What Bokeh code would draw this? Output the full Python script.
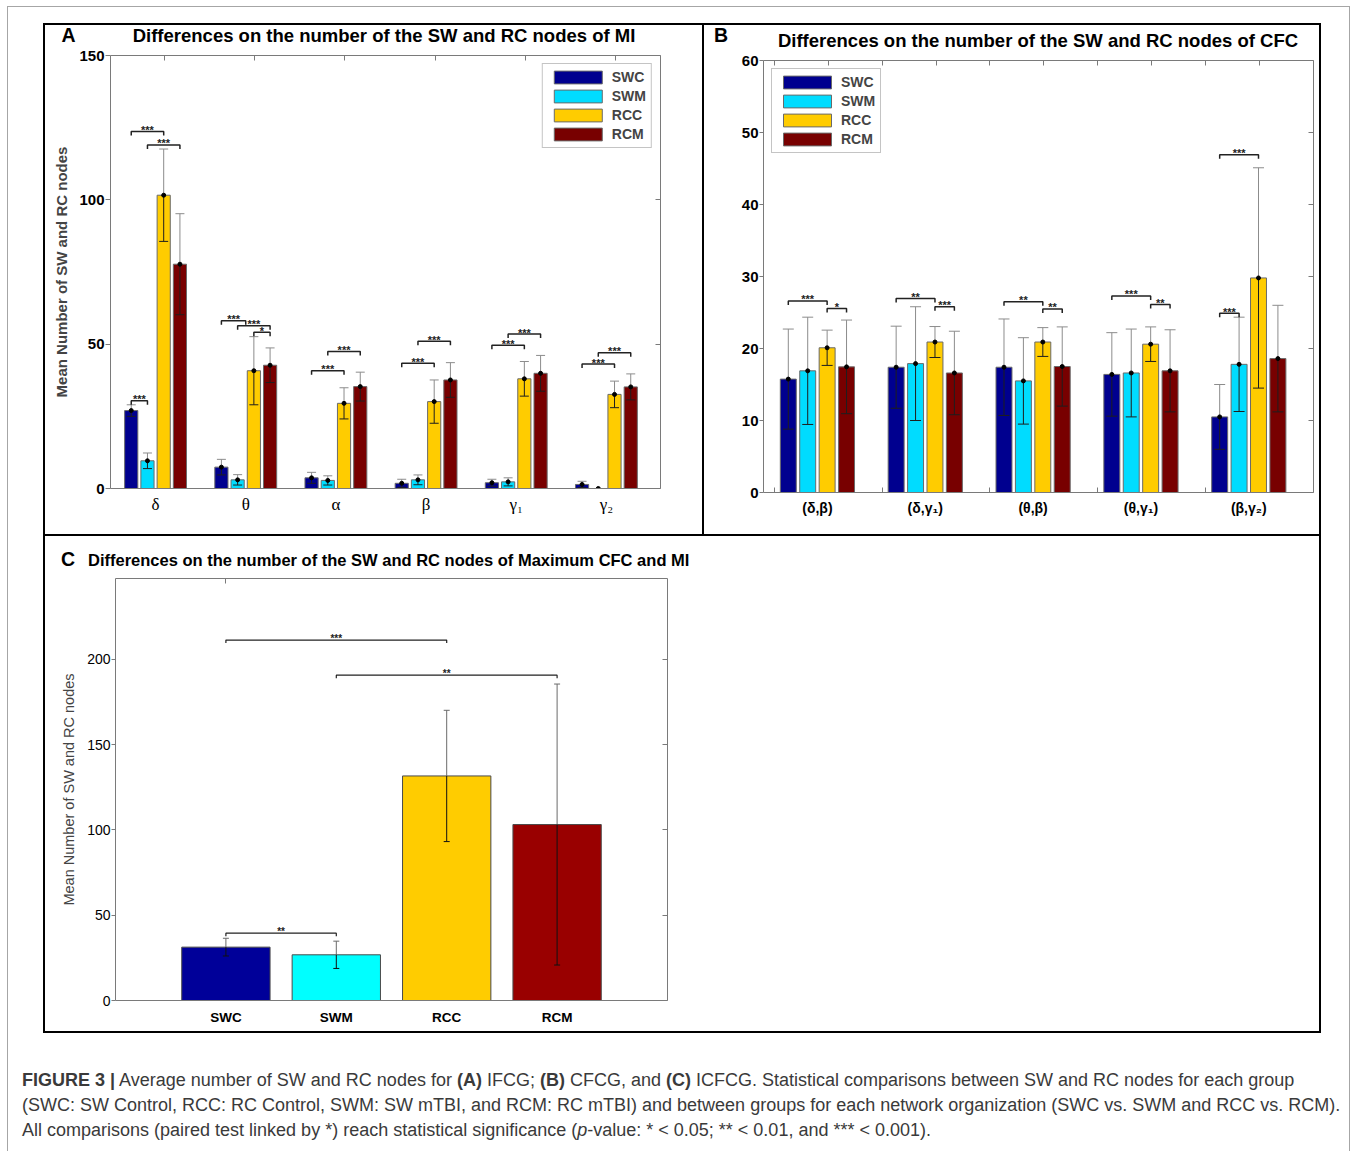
import numpy as np
from bokeh.plotting import figure
from bokeh.models import (ColumnDataSource, Legend, LegendItem, LinearAxis, FixedTicker,
                          Range1d, Div, Spacer, CustomJSTickFormatter)
from bokeh.layouts import column, row
from bokeh.embed import file_html
from bokeh.resources import INLINE
from bokeh.core.properties import value

SANS = "Liberation Sans"
SERIF = "Liberation Serif"
AXIS_GRAY = "#7a7a7a"
FRAME_GRAY = "#a6a6a6"

series = ["SWC", "SWM", "RCC", "RCM"]
colors_ab = ["#00008f", "#00dcff", "#ffcc00", "#780000"]
colors_c = ["#000099", "#00ffff", "#ffcc00", "#990000"]

# ---------------- Panel A data ----------------
a_bands = ["δ", "θ", "α", "β", "γ₁", "γ₂"]
a_swc = [27.0, 7.4, 3.7, 1.8, 2.0, 1.4]
a_swc_err = [2.0, 2.7, 1.9, 1.4, 1.2, 1.1]
a_swm = [9.6, 3.0, 2.8, 3.0, 2.3, 0.0]
a_swm_err = [2.7, 1.8, 1.6, 1.7, 1.4, 0.0]
a_rcc = [101.6, 40.8, 29.5, 30.1, 38.0, 32.6]
a_rcc_err = [16.0, 11.8, 5.4, 7.5, 6.0, 4.6]
a_rcm = [77.7, 42.7, 35.3, 37.6, 39.9, 35.2]
a_rcm_err = [17.5, 6.0, 5.0, 6.0, 6.2, 4.5]
a_yticks = [0, 50, 100, 150]
# significance brackets: band index, from bar, to bar, bracket height, stars
a_sig_band = [0, 0, 0, 1, 1, 1, 2, 2, 3, 3, 4, 4, 5, 5]
a_sig_from = [0, 1, 0, 0, 1, 2, 0, 1, 0, 1, 0, 1, 0, 1]
a_sig_to = [2, 3, 1, 1.5, 3, 3, 2, 3, 2, 3, 2, 3, 2, 3]
a_sig_y = [123.7, 119.0, 30.4, 58.1, 56.4, 54.1, 40.8, 47.5, 43.4, 51.0, 49.6, 53.5, 43.1, 47.0]
a_sig_txt = ["***", "***", "***", "***", "***", "*", "***", "***", "***", "***", "***", "***", "***", "***"]

# ---------------- Panel B data ----------------
b_pairs = ["(δ,β)", "(δ,γ₁)", "(θ,β)", "(θ,γ₁)", "(β,γ₂)"]
b_swc = [15.75, 17.4, 17.4, 16.4, 10.5]
b_swc_err = [6.95, 5.7, 6.7, 5.8, 4.5]
b_swm = [16.9, 17.9, 15.5, 16.6, 17.8]
b_swm_err = [7.45, 7.9, 6.0, 6.1, 6.55]
b_rcc = [20.1, 20.9, 20.9, 20.6, 29.8]
b_rcc_err = [2.45, 2.15, 2.0, 2.4, 15.3]
b_rcm = [17.45, 16.6, 17.5, 16.9, 18.6]
b_rcm_err = [6.5, 5.8, 5.5, 5.7, 7.4]
b_yticks = [0, 10, 20, 30, 40, 50, 60]
b_sig_band = [0, 0, 1, 1, 2, 2, 3, 3, 4, 4]
b_sig_from = [0, 2, 0, 2, 0, 2, 0, 2, 0, 0]
b_sig_to = [2, 3, 2, 3, 2, 3, 2, 3, 1, 2]
b_sig_y = [26.6, 25.55, 26.95, 25.8, 26.5, 25.5, 27.3, 26.1, 24.9, 46.9]
b_sig_txt = ["***", "*", "**", "***", "**", "**", "***", "**", "***", "***"]

# ---------------- Panel C data ----------------
c_groups = ["SWC", "SWM", "RCC", "RCM"]
c_mean = [31.3, 26.8, 131.7, 103.2]
c_err = [5.2, 8.0, 38.5, 82.4]
c_yticks = [0, 50, 100, 150, 200]
c_sig_from = [0, 1, 0]
c_sig_to = [2, 3, 1]
c_sig_y = [211.4, 190.8, 39.5]
c_sig_txt = ["***", "**", "**"]

title_a = "Differences on the number of the SW and RC nodes of MI"
title_b = "Differences on the number of the SW and RC nodes of CFC"
title_c = "Differences on the number of the SW and RC nodes of Maximum CFC and MI"
ylabel = "Mean Number of SW and RC nodes"


def make_panel(bl, bt, br, bb, fw, fh, xr, yr):
    p = figure(frame_width=fw, frame_height=fh,
               min_border_left=bl, min_border_top=bt,
               min_border_right=br, min_border_bottom=bb,
               x_range=Range1d(*xr), y_range=Range1d(*yr),
               x_axis_location=None, y_axis_location=None,
               output_backend="svg", toolbar_location=None, tools="")
    p.title.visible = False
    p.outline_line_color = None
    p.background_fill_color = "white"
    p.border_fill_color = "white"
    p.xgrid.grid_line_color = None
    p.ygrid.grid_line_color = None
    return p, fw / (xr[1] - xr[0]), fh / (yr[1] - yr[0])


def base_axis(ticks, minor=None):
    ax = LinearAxis(ticker=FixedTicker(ticks=ticks, minor_ticks=minor or []))
    ax.axis_line_color = AXIS_GRAY
    ax.major_tick_line_color = AXIS_GRAY
    ax.minor_tick_line_color = AXIS_GRAY if minor else None
    ax.major_tick_in = 0
    ax.major_tick_out = 0
    ax.minor_tick_in = 0
    ax.minor_tick_out = 0
    ax.major_label_text_color = "black"
    return ax


def blank(ax):
    ax.formatter = CustomJSTickFormatter(code="return ''")
    ax.major_label_standoff = 0
    ax.major_label_text_font_size = "1px"
    return ax


def draw_bars(p, means, errs, colors, offsets, width, cap, up_col, lo_col, edge, dot, lw=1):
    rs = []
    for k in range(len(means)):
        m = np.array(means[k], dtype=float)
        e = np.array(errs[k], dtype=float)
        x = np.arange(1, len(m) + 1) + offsets[k]
        src = ColumnDataSource(dict(x=x, top=m, lo=m - e, hi=m + e, x0=x - cap, x1=x + cap))
        r = p.vbar(x="x", top="top", bottom=0, width=width, source=src,
                   fill_color=colors[k], line_color=edge, line_width=1)
        p.segment(x0="x", y0="top", x1="x", y1="hi", source=src, line_color=up_col, line_width=lw)
        p.segment(x0="x", y0="lo", x1="x", y1="top", source=src, line_color=lo_col, line_width=lw)
        p.segment(x0="x0", y0="hi", x1="x1", y1="hi", source=src, line_color=up_col, line_width=lw)
        p.segment(x0="x0", y0="lo", x1="x1", y1="lo", source=src, line_color=lo_col, line_width=lw)
        if dot:
            p.scatter(x="x", y="top", size=dot, color="black", source=src)
        rs.append(r)
    return rs


def draw_sig(p, bands, frm, to, ys, txts, offsets, drop, lift, fsize, lw):
    def bx(b, i):
        return b + 1 + float(np.interp(i, [0, 1, 2, 3], offsets))
    xs, yy, tx, ty = [], [], [], []
    for b, i, j, y in zip(bands, frm, to, ys):
        x1, x2 = bx(b, i), bx(b, j)
        xs.append([x1, x1, x2, x2])
        yy.append([y - drop, y, y, y - drop])
        tx.append((x1 + x2) / 2)
        ty.append(y + lift)
    p.multi_line(xs, yy, line_color="#222222", line_width=lw)
    p.text(x=tx, y=ty, text=list(txts), text_font=value(SANS), text_font_size=fsize,
           text_font_style="bold", text_align="center", text_baseline="alphabetic",
           text_color="#222222")


def make_legend(renderers):
    lg = Legend(items=[LegendItem(label=s, renderers=[r]) for s, r in zip(series, renderers)])
    lg.border_line_color = "#8a8a8a"
    lg.border_line_width = 1
    lg.background_fill_color = "white"
    lg.background_fill_alpha = 1
    lg.padding = 5
    lg.spacing = 3
    lg.margin = 8
    lg.glyph_width = 60
    lg.glyph_height = 16
    lg.label_height = 16
    lg.label_standoff = 4
    lg.label_text_font = SANS
    lg.label_text_font_style = "bold"
    lg.label_text_font_size = "14px"
    return lg


def line_div(w, h, color):
    return Div(text="", width=w, height=h, margin=0,
               styles={"background-color": color})


def header_div(w, h, items):
    spans = ""
    for (txt, x, y, size, anchor) in items:
        tr = "translate(-50%,-50%)" if anchor == "center" else "translate(0,-50%)"
        spans += (f'<span style="position:absolute;left:{x}px;top:{y}px;transform:{tr};'
                  f'font-family:\'{SANS}\',Arial,sans-serif;font-weight:bold;font-size:{size};'
                  f'line-height:1;color:#000;white-space:nowrap;">{txt}</span>')
    html = f'<div style="position:relative;width:{w}px;height:{h}px;">{spans}</div>'
    return Div(text=html, width=w, height=h, margin=0)


offs = [-0.27, -0.09, 0.09, 0.27]

# ================= Panel A =================
pA, sxA, syA = make_panel(65, 10, 42, 46, 550, 433, (0.5, 6.6), (0, 150))
ax = base_axis(a_yticks)
ax.major_tick_out = 5
ax.major_label_standoff = 1
ax.major_label_text_font = SANS
ax.major_label_text_font_style = "bold"
ax.major_label_text_font_size = "15px"
ax.axis_label = ylabel
ax.axis_label_text_font = SANS
ax.axis_label_text_font_style = "bold"
ax.axis_label_text_font_size = "15px"
ax.axis_label_standoff = 6
pA.add_layout(ax, "left")
ax = blank(base_axis(a_yticks)); ax.major_tick_in = 5
pA.add_layout(ax, "right")
ax = blank(base_axis([k + 1.1 for k in range(len(a_bands))])); ax.major_tick_in = 5
pA.add_layout(ax, "above")
ax = base_axis(list(range(1, len(a_bands) + 1)))
ax.major_label_overrides = {k + 1: s for k, s in enumerate(a_bands)}
ax.major_label_standoff = 6
ax.major_label_text_font = SERIF
ax.major_label_text_font_size = "17px"
pA.add_layout(ax, "below")

rA = draw_bars(pA, [a_swc, a_swm, a_rcc, a_rcm], [a_swc_err, a_swm_err, a_rcc_err, a_rcm_err],
               colors_ab, offs, 0.146, 4.5 / sxA, "#8c8c8c", "#1e1e1e", "#6a6a6a", 4)
draw_sig(pA, a_sig_band, a_sig_from, a_sig_to, a_sig_y, a_sig_txt, offs,
         4 / syA, 1.5 / syA, "11px", 1.5)
lgA = make_legend(rA)
lgA.location = "top_right"
pA.add_layout(lgA)

# ================= Panel B =================
pB, sxB, syB = make_panel(59, 11, 6, 42, 550, 432, (0.5, 5.6), (0, 60))
ax = base_axis(b_yticks)
ax.major_tick_out = 4
ax.major_label_standoff = 1
ax.major_label_text_font = SANS
ax.major_label_text_font_style = "bold"
ax.major_label_text_font_size = "15px"
pB.add_layout(ax, "left")
ax = blank(base_axis(b_yticks)); ax.major_tick_in = 5
pB.add_layout(ax, "right")
ax = blank(base_axis([0.6 + 0.5 * k for k in range(2 * len(b_pairs))])); ax.major_tick_in = 5
pB.add_layout(ax, "above")
ax = base_axis(list(range(1, len(b_pairs) + 1)), minor=[k + 0.6 for k in range(len(b_pairs))])
ax.minor_tick_in = 5
ax.major_label_overrides = {k + 1: s for k, s in enumerate(b_pairs)}
ax.major_label_standoff = 7
ax.major_label_text_font = SANS
ax.major_label_text_font_style = "bold"
ax.major_label_text_font_size = "14px"
pB.add_layout(ax, "below")

rB = draw_bars(pB, [b_swc, b_swm, b_rcc, b_rcm], [b_swc_err, b_swm_err, b_rcc_err, b_rcm_err],
               colors_ab, offs, 0.148, 5.5 / sxB, "#8c8c8c", "#1e1e1e", "#6a6a6a", 4)
draw_sig(pB, b_sig_band, b_sig_from, b_sig_to, b_sig_y, b_sig_txt, offs,
         4 / syB, 1.5 / syB, "11px", 1.5)
lgB = make_legend(rB)
lgB.location = "top_left"
pB.add_layout(lgB)

# ================= Panel C =================
pC, sxC, syC = make_panel(70, 6, 652, 31, 552, 422, (0, 5), (0, 247.5))
ax = base_axis(c_yticks)
ax.major_tick_out = 4
ax.major_label_standoff = 1
ax.major_label_text_font = SANS
ax.major_label_text_font_size = "14px"
ax.axis_label = ylabel
ax.axis_label_text_font = SANS
ax.axis_label_text_font_style = "normal"
ax.axis_label_text_font_size = "14.5px"
ax.axis_label_standoff = 7
pC.add_layout(ax, "left")
ax = blank(base_axis(c_yticks)); ax.major_tick_in = 5
pC.add_layout(ax, "right")
ax = blank(base_axis([1])); ax.major_tick_in = 5
pC.add_layout(ax, "above")
ax = base_axis(list(range(1, len(c_groups) + 1)))
ax.major_label_overrides = {k + 1: s for k, s in enumerate(c_groups)}
ax.major_label_standoff = 9
ax.major_label_text_font = SANS
ax.major_label_text_font_style = "bold"
ax.major_label_text_font_size = "13.5px"
pC.add_layout(ax, "below")

xc = np.arange(1, len(c_mean) + 1)
mc = np.array(c_mean)
ec = np.array(c_err)
srcC = ColumnDataSource(dict(x=xc, top=mc, lo=mc - ec, hi=mc + ec, col=colors_c,
                             x0=xc - 3 / sxC, x1=xc + 3 / sxC))
pC.vbar(x="x", top="top", bottom=0, width=0.8, source=srcC, fill_color="col",
        line_color="#4a4a4a", line_width=1)
pC.segment(x0="x", y0="top", x1="x", y1="hi", source=srcC, line_color="#6a6a6a", line_width=1)
pC.segment(x0="x", y0="lo", x1="x", y1="top", source=srcC, line_color="#111111", line_width=1)
pC.segment(x0="x0", y0="hi", x1="x1", y1="hi", source=srcC, line_color="#6a6a6a", line_width=1)
pC.segment(x0="x0", y0="lo", x1="x1", y1="lo", source=srcC, line_color="#111111", line_width=1)
draw_sig(pC, [0, 0, 0], c_sig_from, c_sig_to, c_sig_y, c_sig_txt, [0, 1, 2, 3],
         3 / syC, 1.2 / syC, "10px", 1.2)

# ================= Headers (panel letters and titles) =================
hA = header_div(657, 20, [("A", 23.5, 11, "19.5px", "center"),
                          (title_a, 339, 11, "18.5px", "center")])
hB = header_div(615, 24, [("B", 17, 11, "19.5px", "center"),
                          (title_b, 334, 16, "18.5px", "center")])
hC = header_div(1274, 36, [("C", 23, 24, "19.5px", "center"),
                           (title_c, 43, 24, "16.5px", "left")])

# ================= Caption =================
caption_html = (
    '<div style="box-sizing:border-box;width:1341px;height:118px;overflow:hidden;'
    'padding:35px 0 0 14px;font-family:\'Liberation Sans\',Arial,sans-serif;'
    'font-size:18px;line-height:25px;color:#3a3a3a;white-space:nowrap;">'
    '<b>FIGURE 3 |</b> Average number of SW and RC nodes for <b>(A)</b> IFCG; <b>(B)</b> CFCG, '
    'and <b>(C)</b> ICFCG. Statistical comparisons between SW and RC nodes for each group<br>'
    '(SWC: SW Control, RCC: RC Control, SWM: SW mTBI, and RCM: RC mTBI) and between groups for '
    'each network organization (SWC vs. SWM and RCC vs. RCM).<br>'
    'All comparisons (paired test linked by *) reach statistical significance '
    '(<i>p</i>-value: * &lt; 0.05; ** &lt; 0.01, and *** &lt; 0.001).'
    '</div>'
)
cap = Div(text=caption_html, width=1341, height=118, margin=0)

# ================= Page assembly =================
colA = column(hA, pA)
colB = column(hB, pB)
colC = column(hC, pC)
block_top = column(
    line_div(1278, 2, "black"),
    row(line_div(2, 509, "black"), colA, line_div(2, 509, "black"), colB, line_div(2, 509, "black")),
    line_div(1278, 2, "black"),
)
block_c = column(
    row(line_div(2, 495, "black"), colC, line_div(2, 495, "black")),
    line_div(1278, 2, "black"),
)
body = column(
    Spacer(width=1341, height=16),
    row(Spacer(width=35, height=513), block_top),
    row(Spacer(width=35, height=497), block_c),
    cap,
)
framed = column(
    line_div(1343, 1, FRAME_GRAY),
    row(line_div(1, 1144, FRAME_GRAY), body, line_div(1, 1144, FRAME_GRAY)),
)
page = column(Spacer(width=1350, height=6), row(Spacer(width=7, height=1145), framed))

open("out.html", "w").write(file_html(page, INLINE))
